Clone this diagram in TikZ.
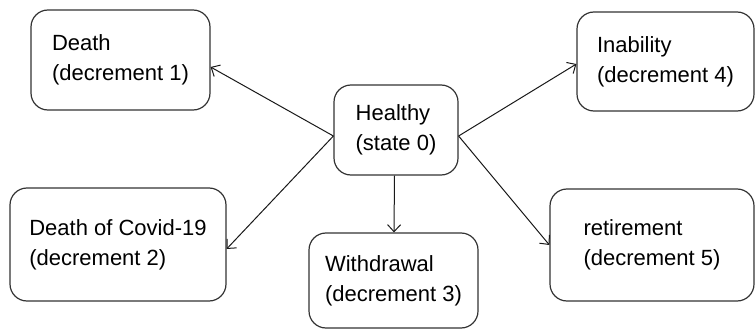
\documentclass[tikz,border=0pt]{standalone}
\usepackage{fontspec}
\setmainfont{Liberation Sans}
\usetikzlibrary{arrows.meta}
\begin{document}
\begin{tikzpicture}[x=1pt,y=-1pt,
  box/.style={draw=black!80, line width=1.2pt, rounded corners=17pt, align=left,
    inner sep=0pt, font=\fontsize{22}{30}\selectfont, text=black},
  conn/.style={draw=black!90, line width=1pt, -{Straight Barb[length=7pt,width=13pt]}}]
\useasboundingbox (0,0) rectangle (755,329);
\node[box, minimum width=179pt, minimum height=100pt] (d1) at (120.5,60) {Death\\(decrement 1)};
\node[box, minimum width=124pt, minimum height=90pt] (h) at (396,130) {Healthy\\(state 0)};
\node[box, minimum width=177pt, minimum height=99pt] (d4) at (665.5,61.5) {Inability\\(decrement 4)};
\node[box, minimum width=216pt, minimum height=113pt] (d2) at (118,244.5) {Death of Covid-19\\(decrement 2)};
\node[box, minimum width=169pt, minimum height=95pt] (d3) at (393.5,280.5) {Withdrawal\\(decrement 3)};
\node[box, minimum width=204pt, minimum height=112pt] (d5) at (652,245) {retirement\\(decrement 5)};
\draw[conn] ([yshift=-6pt]h.west) -- ([yshift=-7pt]d1.east);
\draw[conn] ([yshift=-6pt]h.west) -- ([yshift=-4.5pt]d2.east);
\draw[conn] ([yshift=-6pt]h.east) -- ([yshift=-2.5pt]d4.west);
\draw[conn] ([yshift=-6pt]h.east) -- (d5.west);
\draw[conn] ([xshift=-1.5pt]h.south) -- ([xshift=0.5pt]d3.north);
\end{tikzpicture}
\end{document}
